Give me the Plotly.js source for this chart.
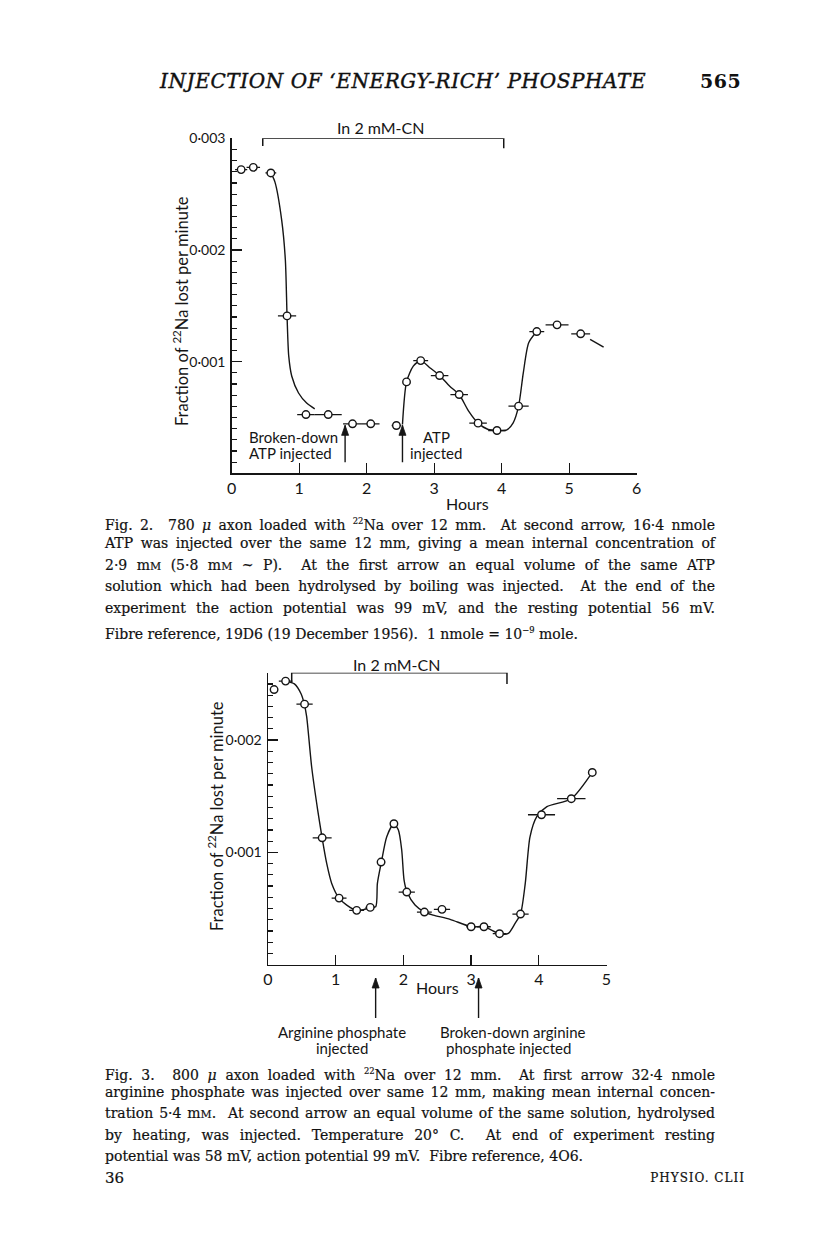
<!DOCTYPE html>
<html>
<head>
<meta charset="utf-8">
<script src="https://cdn.plot.ly/plotly-3.0.1.min.js"></script>
<style>
  body { margin: 0; background: #fff; }
  #page { position: relative; width: 816px; height: 1248px; overflow: hidden; background: #fff; }
  #plot { position: absolute; left: 0; top: 0; width: 816px; height: 1248px; }
  .cap { position: absolute; left: 105px; width: 610px; font-family: "DejaVu Serif", serif; font-size: 14px; line-height: 20px; color: #111; white-space: nowrap; -webkit-text-stroke: 0.2px #111; }
  .just { text-align: justify; text-align-last: justify; white-space: normal; }
  .sc { font-size: 0.78em; }
  .hdr { position: absolute; font-family: "DejaVu Serif", serif; color: #111; white-space: nowrap; }
</style>
</head>
<body>
<div id="page">
  <div id="plot"></div>
  <div class="hdr" style="left:160px; top:69px; font-size:20px; font-style:italic; letter-spacing:0.6px; -webkit-text-stroke:0.4px #111;">INJECTION OF ‘ENERGY-RICH’ PHOSPHATE</div>
  <div class="hdr" style="left:700px; top:70px; font-size:19px; font-weight:bold; letter-spacing:0.5px;">565</div>

  <div class="cap just" style="top:511px;">Fig. 2.&nbsp; 780 <i>μ</i> axon loaded with <sup style="font-size:0.6em">22</sup>Na over 12 mm.&nbsp; At second arrow, 16·4 nmole</div>
  <div class="cap just" style="top:533px;">ATP was injected over the same 12 mm, giving a mean internal concentration of</div>
  <div class="cap just" style="top:555px;">2·9 m<span class="sc">M</span> (5·8 m<span class="sc">M</span> ~ P).&nbsp; At the first arrow an equal volume of the same ATP</div>
  <div class="cap just" style="top:576px;">solution which had been hydrolysed by boiling was injected.&nbsp; At the end of the</div>
  <div class="cap just" style="top:598px;">experiment the action potential was 99 mV, and the resting potential 56 mV.</div>
  <div class="cap" style="top:620px;">Fibre reference, 19D6 (19 December 1956).&nbsp; 1 nmole = 10<sup style="font-size:0.6em">−9</sup> mole.</div>

  <div class="cap just" style="top:1061px;">Fig. 3.&nbsp; 800 <i>μ</i> axon loaded with <sup style="font-size:0.6em">22</sup>Na over 12 mm.&nbsp; At first arrow 32·4 nmole</div>
  <div class="cap just" style="top:1082px;">arginine phosphate was injected over same 12 mm, making mean internal concen-</div>
  <div class="cap just" style="top:1103px;">tration 5·4 m<span class="sc">M</span>.&nbsp; At second arrow an equal volume of the same solution, hydrolysed</div>
  <div class="cap just" style="top:1125px;">by heating, was injected. Temperature 20° C.&nbsp; At end of experiment resting</div>
  <div class="cap" style="top:1146px;">potential was 58 mV, action potential 99 mV.&nbsp; Fibre reference, 4O6.</div>
  <div class="cap" style="top:1168px; font-size:15px;">36</div>
  <div class="cap" style="top:1168px; left:600px; width:145px; text-align:right; font-size:12px; letter-spacing:1px;">PHYSIO. CLII</div>
</div>
<script>
// ---------- Fig. 2 data (hours, fraction of 22Na lost per minute, half collection period) ----------
const fig2Hours   = [0.14, 0.32, 0.58, 0.82, 1.10, 1.43, 1.79, 2.06, 2.44, 2.59, 2.80, 3.08, 3.37, 3.65, 3.93, 4.25, 4.52, 4.82, 5.17];
const fig2Values  = [0.00272, 0.00274, 0.00269, 0.00141, 0.000527, 0.000527, 0.000444, 0.000444, 0.000429, 0.000819, 0.00101, 0.000876, 0.000706, 0.00045, 0.000384, 0.000602, 0.00127, 0.00133, 0.00125];
const fig2Periods = [0.09, 0.1, 0.08, 0.135, 0.13, 0.2, 0.14, 0.13, 0.07, 0.04, 0.11, 0.13, 0.13, 0.13, 0.13, 0.15, 0.11, 0.17, 0.14];
// hand-drawn curves
const fig2CurveAHours  = [0.58, 0.64, 0.74, 0.795, 0.82, 0.845, 0.89, 0.99, 1.11, 1.23];
const fig2CurveAValues = [0.00269, 0.00261, 0.00227, 0.00191, 0.00141, 0.00105, 0.00087, 0.00072, 0.00063, 0.000578];
const fig2CurveBHours  = [2.53, 2.59, 2.69, 2.80, 2.94, 3.08, 3.23, 3.37, 3.51, 3.65, 3.80, 3.93, 4.07, 4.17, 4.25, 4.32, 4.40, 4.52];
const fig2CurveBValues = [0.000438, 0.000819, 0.00096, 0.00101, 0.000944, 0.000876, 0.00078, 0.000706, 0.000557, 0.00045, 0.000393, 0.000384, 0.000387, 0.000453, 0.000602, 0.0009, 0.00117, 0.00127];
const fig2CurveCHours  = [5.31, 5.51];
const fig2CurveCValues = [0.0012, 0.00113];
const fig2CnBracket = [0.46, 4.03];       // hours in 2 mM-CN
const fig2Arrows = [1.68, 2.53];          // injection times (hours)
const fig2XTicks = [0, 1, 2, 3, 4, 5, 6];
const fig2YTicks = [0.001, 0.002, 0.003];
const fig2YTickText = ["0·001", "0·002", "0·003"];

// ---------- Fig. 3 data ----------
const fig3Hours   = [0.09, 0.26, 0.54, 0.80, 1.05, 1.31, 1.51, 1.67, 1.86, 2.05, 2.31, 2.57, 3.00, 3.19, 3.42, 3.73, 4.04, 4.48, 4.79];
const fig3Values  = [0.00245, 0.002525, 0.00232, 0.00113, 0.000593, 0.000484, 0.00051, 0.000914, 0.001255, 0.000647, 0.000469, 0.000493, 0.000338, 0.000338, 0.000276, 0.000451, 0.001335, 0.001478, 0.001712];
const fig3Periods = [0.02, 0.1, 0.12, 0.14, 0.11, 0.11, 0.07, 0.06, 0.04, 0.12, 0.11, 0.12, 0.07, 0.1, 0.1, 0.12, 0.2, 0.21, 0.02];
const fig3CurveHours  = [0.26, 0.39, 0.49, 0.537, 0.571, 0.645, 0.734, 0.798, 0.867, 0.941, 1.049, 1.163, 1.305, 1.41, 1.512, 1.591, 1.616, 1.675, 1.754, 1.857, 1.926, 1.975, 2.01, 2.054, 2.172, 2.31, 2.44, 2.69, 3.0, 3.19, 3.42, 3.55, 3.65, 3.73, 3.80, 3.87, 3.97, 4.12, 4.48, 4.79];
const fig3CurveValues = [0.002525, 0.0025, 0.00241, 0.002318, 0.002208, 0.00176, 0.001377, 0.001134, 0.000902, 0.000724, 0.000593, 0.000531, 0.000484, 0.00049, 0.00051, 0.000516, 0.000724, 0.000914, 0.001139, 0.001255, 0.001199, 0.001021, 0.000754, 0.000647, 0.000531, 0.000469, 0.000442, 0.000404, 0.000338, 0.000338, 0.000276, 0.000279, 0.000368, 0.000451, 0.000724, 0.001139, 0.001318, 0.001407, 0.001478, 0.001712];
const fig3CnBracket = [0.35, 3.53];
const fig3Arrows = [1.59, 3.11];
const fig3XTicks = [0, 1, 2, 3, 4, 5];
const fig3YTicks = [0.001, 0.002];
const fig3YTickText = ["0·001", "0·002"];

// ---------- layout helpers (pixel -> paper) ----------
const W = 816, H = 1248;
const px = v => v / W;
const py = v => 1 - v / H;
const SANS = "Lato, 'Open Sans', sans-serif";
const INK = "#151515";

function markerTrace(x, y, err, xa, ya) {
  return {
    type: "scatter", mode: "markers", x: x, y: y, xaxis: xa, yaxis: ya,
    marker: { symbol: "circle", size: 7.5, color: "#fff", line: { color: INK, width: 1.4 } },
    error_x: { type: "data", array: err, symmetric: true, color: INK, thickness: 1.3, width: 0 },
    hoverinfo: "skip", cliponaxis: false
  };
}
function curveTrace(x, y, xa, ya) {
  return {
    type: "scatter", mode: "lines", x: x, y: y, xaxis: xa, yaxis: ya,
    line: { color: INK, width: 1.4, shape: "spline", smoothing: 0.7 },
    hoverinfo: "skip", cliponaxis: false
  };
}

const traces = [
  curveTrace(fig2CurveAHours, fig2CurveAValues, "x", "y"),
  curveTrace(fig2CurveBHours, fig2CurveBValues, "x", "y"),
  curveTrace(fig2CurveCHours, fig2CurveCValues, "x", "y"),
  markerTrace(fig2Hours, fig2Values, fig2Periods, "x", "y"),
  curveTrace(fig3CurveHours, fig3CurveValues, "x2", "y2"),
  markerTrace(fig3Hours, fig3Values, fig3Periods, "x2", "y2")
];

function xAxis(domain, range, ticks) {
  return {
    domain: domain, range: range, showline: true, linecolor: INK, linewidth: 1.5,
    showgrid: false, zeroline: false, ticks: "inside", ticklen: 10, tickwidth: 1.4, tickcolor: INK,
    tickmode: "array", tickvals: ticks, ticktext: ticks.map(String),
    tickfont: { family: SANS, size: 16, color: INK }, fixedrange: true
  };
}
function yAxis(domain, range, ticks, text) {
  return {
    domain: domain, range: range, showline: true, linecolor: INK, linewidth: 1.5,
    showgrid: false, zeroline: false, ticks: "inside", ticklen: 10, tickwidth: 1.4, tickcolor: INK,
    tickmode: "array", tickvals: ticks, ticktext: text,
    tickfont: { family: SANS, size: 14, color: INK }, ticklabelstandoff: 2,
    minor: { tickmode: "linear", tick0: 0, dtick: 0.0001, ticks: "inside", ticklen: 5, tickwidth: 1.2, tickcolor: INK, showgrid: false },
    fixedrange: true
  };
}

const ann = [];
const shapes = [];
function txt(text, x, y, xref, yref, opts) {
  ann.push(Object.assign({ text: text, x: x, y: y, xref: xref, yref: yref, showarrow: false,
    font: { family: SANS, size: 16, color: INK }, xanchor: "center", yanchor: "middle" }, opts || {}));
}
// vertical arrow drawn as shapes: shaft in axis/paper units, head sized in pixels at the tip
function arrow(x, yTip, yTail, xref, yref) {
  shapes.push({ type: "line", xref: xref, yref: yref, x0: x, x1: x, y0: yTail, y1: yTip,
    line: { color: INK, width: 1.4 } });
  shapes.push({ type: "path", xref: xref, yref: yref, xsizemode: "pixel", ysizemode: "pixel",
    xanchor: x, yanchor: yTip, path: "M 0 0 L -3.5 -10 L 3.5 -10 Z",
    fillcolor: INK, line: { color: INK, width: 0.8 } });
}
function bracket(x0, x1, yTop, yEnd0, yEnd1, xref, yref) {
  shapes.push({ type: "path", xref: xref, yref: yref,
    path: `M ${x0} ${yEnd0} L ${x0} ${yTop} L ${x1} ${yTop} L ${x1} ${yEnd1}`,
    line: { color: INK, width: 1.5 } });
}

// Fig 2 annotations
const cn = "In 2 mM-CN";
const f15 = { family: SANS, size: 15, color: INK };
bracket(fig2CnBracket[0], fig2CnBracket[1], 0.003, 0.00293, 0.00291, "x", "y");
txt(cn, 2.2, py(128), "x", "paper");
arrow(fig2Arrows[0], 0.00043, 0.0001, "x", "y");
arrow(fig2Arrows[1], 0.00043, 0.0001, "x", "y");
txt("Broken-down", 0.23, py(437), "x", "paper", { xanchor: "left", font: f15 });
txt("ATP injected", 0.23, py(453), "x", "paper", { xanchor: "left", font: f15 });
txt("ATP", 3.03, py(437), "x", "paper", { font: f15 });
txt("injected", 3.03, py(453), "x", "paper", { font: f15 });
txt("Hours", 3.5, py(503), "x", "paper");
txt("Fraction of <sup>22</sup>Na lost per minute", px(181), py(311), "paper", "paper", { textangle: -90, font: { family: SANS, size: 16.5, color: INK } });

// Fig 3 annotations
bracket(fig3CnBracket[0], fig3CnBracket[1], 0.0026, 0.00251, 0.0025, "x2", "y2");
txt(cn, 1.9, py(664), "x2", "paper");
arrow(fig3Arrows[0], py(978), py(1018), "x2", "paper");
arrow(fig3Arrows[1], py(978), py(1018), "x2", "paper");
txt("Arginine phosphate", 1.09, py(1032), "x2", "paper", { font: f15 });
txt("injected", 1.09, py(1048), "x2", "paper", { font: f15 });
txt("Broken-down arginine", 3.62, py(1032), "x2", "paper", { font: f15 });
txt("phosphate injected", 3.55, py(1048), "x2", "paper", { font: f15 });
txt("Hours", 2.51, py(987), "x2", "paper");
txt("Fraction of <sup>22</sup>Na lost per minute", px(216), py(816), "paper", "paper", { textangle: -90, font: { family: SANS, size: 16.5, color: INK } });

const layout = {
  width: W, height: H, margin: { l: 0, r: 0, t: 0, b: 0 },
  paper_bgcolor: "rgba(0,0,0,0)", plot_bgcolor: "rgba(0,0,0,0)",
  showlegend: false,
  xaxis: xAxis([px(231.7), px(636.7)], [0, 6], fig2XTicks),
  yaxis: yAxis([py(473.4), py(138.3)], [0, 0.003], fig2YTicks, fig2YTickText),
  xaxis2: Object.assign(xAxis([px(268), px(606.5)], [0, 5], fig3XTicks), { anchor: "y2" }),
  yaxis2: Object.assign(yAxis([py(964.7), py(672.7)], [0, 0.0026], fig3YTicks, fig3YTickText), { anchor: "x2" }),
  annotations: ann, shapes: shapes
};
layout.xaxis.anchor = "y";
layout.yaxis.anchor = "x";

Plotly.newPlot("plot", traces, layout, { staticPlot: true, displayModeBar: false });
</script>
</body>
</html>
